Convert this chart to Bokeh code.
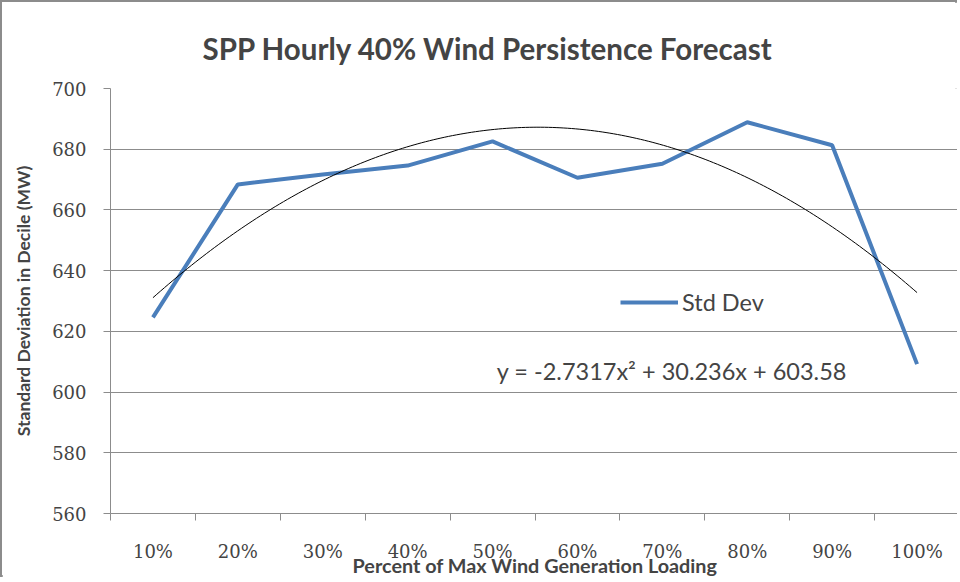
from bokeh.plotting import figure
from bokeh.models import FixedTicker, Label, Legend, LegendItem, ColumnDataSource
from bokeh.embed import file_html
from bokeh.resources import INLINE
import numpy as np

categories = ["10%", "20%", "30%", "40%", "50%", "60%", "70%", "80%", "90%", "100%"]
std_dev = [624.6, 668.4, 671.7, 674.6, 682.6, 670.6, 675.2, 688.9, 681.3, 609.2]
trend_coef = [-2.7317, 30.236, 603.58]  # y = a x^2 + b x + c (displayed trendline)
y_ticks = [560, 580, 600, 620, 640, 660, 680, 700]

xs = list(range(1, len(categories) + 1))
tx = np.linspace(1, len(categories), 200)
ty = trend_coef[0] * tx ** 2 + trend_coef[1] * tx + trend_coef[2]

SANS = "Lato"
SERIF = "DejaVu Serif"
GRID = "#8c8c8c"
BLUE = "#4a7ebb"

p = figure(width=957, height=577, output_backend="svg", toolbar_location=None,
           x_range=(0.5, len(categories) + 0.5), y_range=(y_ticks[0], y_ticks[-1]),
           min_border_left=108, min_border_right=0, min_border_top=86, min_border_bottom=66)
p.styles = {"border-left": "2px solid #8c8c8c", "border-top": "2px solid #8c8c8c",
            "outline": "2px solid #8c8c8c", "outline-offset": "-2px"}

p.title.text = "SPP Hourly 40% Wind Persistence Forecast"
p.title.align = "left"
p.title.text_font = SANS
p.title.text_font_size = "29.5px"
p.title.text_font_style = "bold"
p.title.offset = 92
p.title.standoff = 45

p.outline_line_color = None
p.xgrid.grid_line_color = None
p.ygrid.grid_line_color = GRID
p.ygrid.grid_line_width = 1

p.yaxis.ticker = FixedTicker(ticks=y_ticks)
p.yaxis.axis_line_color = GRID
p.yaxis.major_tick_line_color = GRID
p.yaxis.major_tick_out = 7
p.yaxis.major_tick_in = 0
p.yaxis.minor_tick_line_color = None
p.yaxis.major_label_text_font = SERIF
p.yaxis.major_label_text_font_size = "18px"
p.yaxis.major_label_standoff = 17
p.yaxis.axis_label = "Standard Deviation in Decile (MW)"
p.yaxis.axis_label_text_font = SANS
p.yaxis.axis_label_text_font_style = "bold"
p.yaxis.axis_label_text_font_size = "17.5px"
p.yaxis.axis_label_standoff = 15

p.xaxis.ticker = FixedTicker(ticks=xs, minor_ticks=[x - 0.5 for x in xs] + [xs[-1] + 0.5])
p.xaxis.major_label_overrides = {x: c for x, c in zip(xs, categories)}
p.xaxis.axis_line_color = GRID
p.xaxis.major_tick_line_color = None
p.xaxis.major_tick_out = 7
p.xaxis.major_tick_in = 0
p.xaxis.minor_tick_line_color = GRID
p.xaxis.minor_tick_out = 7
p.xaxis.minor_tick_in = 0
p.xaxis.major_label_text_font = SERIF
p.xaxis.major_label_text_font_size = "18px"
p.xaxis.major_label_standoff = 20
p.xaxis.axis_label = "Percent of Max Wind Generation Loading"
p.xaxis.axis_label_text_font = SANS
p.xaxis.axis_label_text_font_style = "bold"
p.xaxis.axis_label_text_font_size = "19.8px"
p.xaxis.axis_label_standoff = -12

src = ColumnDataSource(dict(x=xs, y=std_dev))
r = p.line("x", "y", source=src, line_color=BLUE, line_width=4)
p.line(tx, ty, line_color="black", line_width=1)

legend = Legend(items=[LegendItem(label="Std Dev", renderers=[r])],
                location=(510, 197), border_line_color=None, background_fill_alpha=0,
                label_text_font=SANS, label_text_font_size="23.5px",
                glyph_width=58, label_standoff=4, padding=0, margin=0)
p.add_layout(legend)

eq = Label(x=5.05, y=606.8, text="y = -2.7317x\u00b2 + 30.236x + 603.58",
           text_font=SANS, text_font_size="23.5px", text_baseline="middle")
p.add_layout(eq)

open("out.html", "w").write(file_html(p, INLINE))
